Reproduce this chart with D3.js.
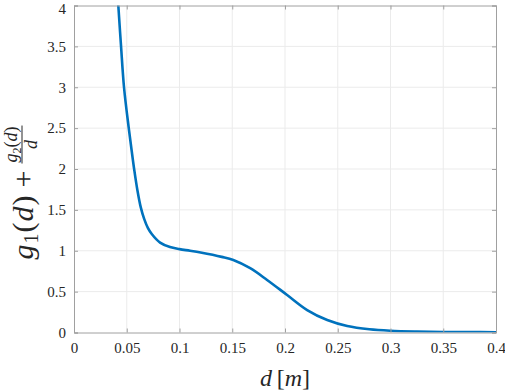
<!DOCTYPE html>
<html lang="en">
<head>
    <meta charset="UTF-8">
    <script src="https://cdnjs.cloudflare.com/ajax/libs/d3/7.8.5/d3.min.js"></script>
    <style>
        body { margin: 0; background: #fff; }
    </style>
</head>
<body>
    <svg id="chart" width="505" height="392"></svg>
    <script>
        // values
        const dValues = [0.0395, 0.042, 0.0446, 0.0474, 0.0519, 0.0547, 0.057, 0.0601, 0.0633, 0.0665,
            0.07, 0.0737, 0.0816, 0.091, 0.1, 0.11, 0.12, 0.14, 0.151, 0.167,
            0.183, 0.202, 0.221, 0.24, 0.259, 0.28, 0.3, 0.325, 0.35, 0.375, 0.4];
        const gValues = [4.55, 4.0, 3.5, 3.0, 2.5, 2.22, 2.0, 1.74, 1.53, 1.39,
            1.28, 1.205, 1.1, 1.045, 1.02, 1.0, 0.978, 0.925, 0.887, 0.786,
            0.643, 0.459, 0.275, 0.153, 0.08, 0.04, 0.022, 0.012, 0.007, 0.005, 0.003];
        const xTicks = [0, 0.05, 0.1, 0.15, 0.2, 0.25, 0.3, 0.35, 0.4];
        const yTicks = [0, 0.5, 1, 1.5, 2, 2.5, 3, 3.5, 4];

        const serif = '"Liberation Serif", "DejaVu Serif", "Times New Roman", Times, serif';
        const ink = '#262626';

        const svg = d3.select('#chart');
        const pLeft = 74, pRight = 496, pTop = 5.5, pBottom = 332.5;

        const x = d3.scaleLinear().domain([0, 0.4]).range([pLeft, pRight]);
        const y = d3.scaleLinear().domain([0, 4]).range([pBottom, pTop]);

        // grid
        svg.append('g').selectAll('line').data(xTicks.slice(1, -1)).enter().append('line')
            .attr('x1', d => x(d)).attr('x2', d => x(d))
            .attr('y1', pTop).attr('y2', pBottom)
            .style('stroke', '#ebebeb').style('stroke-width', 1);
        svg.append('g').selectAll('line').data(yTicks.slice(1, -1)).enter().append('line')
            .attr('y1', d => y(d)).attr('y2', d => y(d))
            .attr('x1', pLeft).attr('x2', pRight)
            .style('stroke', '#ebebeb').style('stroke-width', 1);

        // curve
        svg.append('clipPath').attr('id', 'clip').append('rect')
            .attr('x', pLeft).attr('y', pTop).attr('width', pRight - pLeft).attr('height', pBottom - pTop);

        const pts = dValues.map((d, i) => [d, gValues[i]]);
        const line = d3.line().x(d => x(d[0])).y(d => y(d[1])).curve(d3.curveCatmullRom.alpha(0.5));
        svg.append('path').datum(pts)
            .attr('clip-path', 'url(#clip)')
            .attr('d', line)
            .style('fill', 'none')
            .style('stroke', '#0072BD')
            .style('stroke-width', 2.6);

        // axes (ticks point inward)
        const axisColor = '#a0a0a0';
        const xAxis = svg.append('g').attr('transform', `translate(0,${pBottom})`)
            .call(d3.axisBottom(x).tickValues(xTicks).tickSize(-4).tickPadding(10)
                .tickFormat(d => String(d)));
        const xTop = svg.append('g').attr('transform', `translate(0,${pTop})`)
            .call(d3.axisTop(x).tickValues(xTicks).tickSize(-4).tickFormat(''));
        const yAxis = svg.append('g').attr('transform', `translate(${pLeft},0)`)
            .call(d3.axisLeft(y).tickValues(yTicks).tickSize(-4).tickPadding(8)
                .tickFormat(d => String(d)));
        const yRight = svg.append('g').attr('transform', `translate(${pRight},0)`)
            .call(d3.axisRight(y).tickValues(yTicks).tickSize(-4).tickFormat(''));

        [xAxis, xTop, yAxis, yRight].forEach(g => {
            g.attr('font-family', serif).attr('font-size', 15);
            g.selectAll('path, line').style('stroke', axisColor);
            g.selectAll('text').attr('fill', ink);
        });
        // keep the top "4" inside the picture
        yAxis.selectAll('text').filter(d => d === 4).attr('dy', '0.55em');

        // x label: d [m]
        const xl = svg.append('text')
            .attr('x', (pLeft + pRight) / 2).attr('y', 386)
            .attr('text-anchor', 'middle')
            .style('font-family', serif).style('font-size', '24px').style('fill', ink);
        xl.append('tspan').style('font-style', 'italic').text('d');
        xl.append('tspan').text('\u2009[');
        xl.append('tspan').style('font-style', 'italic').text('m');
        xl.append('tspan').text(']');

        // y label: g1(d) + g2(d)/d, rotated; local x runs up the page from y = 193
        const yl = svg.append('g').attr('transform', 'translate(33,193) rotate(-90)')
            .style('font-family', serif).style('fill', ink);
        const main = yl.append('text').style('font-size', '30px').style('letter-spacing', '1px');
        main.append('tspan').style('font-style', 'italic').text('g');
        main.append('tspan').style('font-size', '20px').attr('dy', 5).text('1');
        main.append('tspan').attr('dy', -5).text('(');
        main.append('tspan').style('font-style', 'italic').text('d');
        main.append('tspan').text(')\u2009+');
        const mainW = main.node().getComputedTextLength();

        const num = yl.append('text').attr('y', -16).style('font-size', '18px');
        num.append('tspan').style('font-style', 'italic').text('g');
        num.append('tspan').style('font-size', '12px').attr('dy', 4).text('2');
        num.append('tspan').attr('dy', -4).text('(');
        num.append('tspan').style('font-style', 'italic').text('d');
        num.append('tspan').text(')');
        const numW = num.node().getComputedTextLength();

        const gap = 7;
        const total = mainW + gap + numW;
        const x0 = -total / 2;
        main.attr('x', x0);
        const fx0 = x0 + mainW + gap, fx1 = fx0 + numW;
        num.attr('x', fx0);
        yl.append('line').attr('x1', fx0 - 1).attr('x2', fx1 + 1)
            .attr('y1', -11).attr('y2', -11)
            .style('stroke', ink).style('stroke-width', 1);
        yl.append('text').attr('x', (fx0 + fx1) / 2).attr('y', 4)
            .attr('text-anchor', 'middle')
            .style('font-size', '18px').style('font-style', 'italic').text('d');
    </script>
</body>
</html>
